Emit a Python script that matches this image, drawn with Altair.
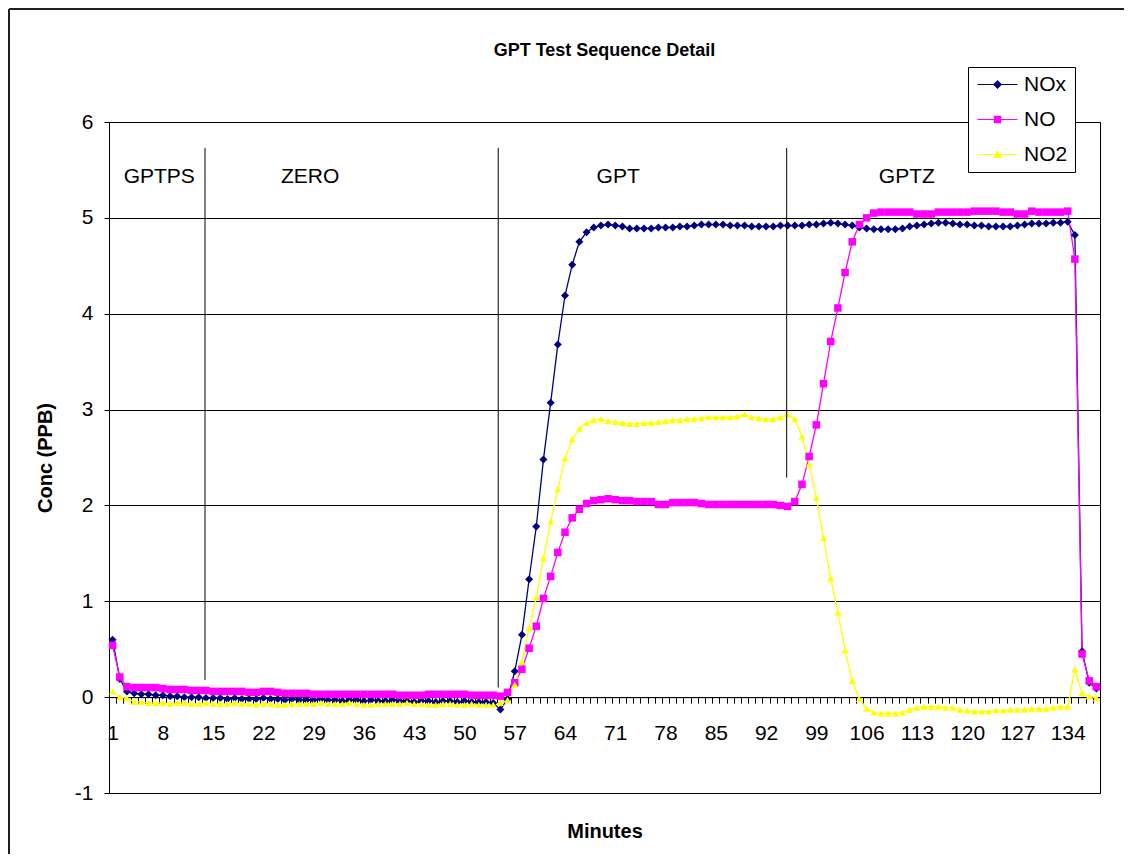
import altair as alt
import pandas as pd

# ---------------- data ----------------
minutes = list(range(1, 139))

nox = [0.60, 0.19, 0.06, 0.04, 0.03, 0.03, 0.02, 0.02, 0.01, 0.01,
       0.00, 0.00, 0.00, -0.01, -0.01, -0.01, -0.02, -0.01, -0.02, -0.02,
       -0.02, -0.01, -0.02, -0.02, -0.03, -0.02, -0.03, -0.03, -0.03, -0.02,
       -0.03, -0.03, -0.04, -0.03, -0.03, -0.04, -0.03, -0.04, -0.04, -0.03,
       -0.04, -0.04, -0.05, -0.04, -0.04, -0.05, -0.04, -0.04, -0.05, -0.04,
       -0.05, -0.05, -0.05, -0.06, -0.13, -0.02, 0.27, 0.65, 1.23, 1.78,
       2.48, 3.07, 3.68, 4.19, 4.51, 4.75, 4.85, 4.90, 4.92, 4.93,
       4.92, 4.91, 4.89, 4.89, 4.89, 4.89, 4.90, 4.90, 4.90, 4.91,
       4.91, 4.92, 4.93, 4.93, 4.93, 4.93, 4.92, 4.92, 4.92, 4.91,
       4.91, 4.91, 4.91, 4.92, 4.92, 4.92, 4.92, 4.93, 4.93, 4.94,
       4.95, 4.94, 4.93, 4.92, 4.90, 4.89, 4.88, 4.88, 4.88, 4.88,
       4.89, 4.91, 4.92, 4.93, 4.94, 4.95, 4.95, 4.94, 4.93, 4.93,
       4.92, 4.92, 4.91, 4.91, 4.91, 4.91, 4.92, 4.93, 4.94, 4.94,
       4.94, 4.95, 4.95, 4.96, 4.82, 0.48, 0.15, 0.09]

no = [0.54, 0.21, 0.11, 0.10, 0.10, 0.10, 0.10, 0.09, 0.08, 0.08,
      0.08, 0.07, 0.07, 0.07, 0.06, 0.06, 0.06, 0.06, 0.06, 0.05,
      0.05, 0.06, 0.06, 0.05, 0.04, 0.04, 0.04, 0.04, 0.03, 0.03,
      0.03, 0.03, 0.03, 0.03, 0.03, 0.03, 0.03, 0.03, 0.03, 0.03,
      0.02, 0.02, 0.02, 0.02, 0.03, 0.03, 0.03, 0.03, 0.03, 0.03,
      0.02, 0.02, 0.02, 0.02, 0.01, 0.05, 0.15, 0.29, 0.51, 0.74,
      1.03, 1.26, 1.51, 1.72, 1.87, 1.96, 2.02, 2.05, 2.06, 2.07,
      2.06, 2.05, 2.05, 2.04, 2.04, 2.04, 2.01, 2.01, 2.03, 2.03,
      2.03, 2.03, 2.02, 2.01, 2.01, 2.01, 2.01, 2.01, 2.01, 2.01,
      2.01, 2.01, 2.01, 2.00, 1.99, 2.04, 2.22, 2.51, 2.84, 3.27,
      3.71, 4.06, 4.43, 4.75, 4.93, 5.00, 5.05, 5.06, 5.06, 5.06,
      5.06, 5.06, 5.04, 5.04, 5.04, 5.06, 5.06, 5.06, 5.06, 5.06,
      5.07, 5.07, 5.07, 5.07, 5.06, 5.06, 5.04, 5.04, 5.07, 5.06,
      5.06, 5.06, 5.06, 5.07, 4.57, 0.45, 0.17, 0.11]

no2 = [0.06, 0.00, -0.01, -0.05, -0.05, -0.06, -0.06, -0.06, -0.07, -0.06,
       -0.06, -0.07, -0.07, -0.06, -0.07, -0.07, -0.07, -0.06, -0.07, -0.07,
       -0.08, -0.07, -0.07, -0.08, -0.08, -0.07, -0.07, -0.07, -0.07, -0.06,
       -0.07, -0.07, -0.07, -0.06, -0.07, -0.08, -0.08, -0.07, -0.07, -0.07,
       -0.07, -0.06, -0.07, -0.07, -0.08, -0.08, -0.07, -0.07, -0.08, -0.08,
       -0.07, -0.08, -0.08, -0.08, -0.06, -0.03, 0.13, 0.37, 0.72, 1.04,
       1.45, 1.83, 2.17, 2.49, 2.69, 2.80, 2.86, 2.89, 2.90, 2.88,
       2.87, 2.86, 2.85, 2.85, 2.86, 2.86, 2.87, 2.88, 2.89, 2.89,
       2.90, 2.90, 2.91, 2.92, 2.92, 2.92, 2.92, 2.93, 2.95, 2.92,
       2.91, 2.90, 2.90, 2.92, 2.95, 2.90, 2.72, 2.43, 2.08, 1.66,
       1.24, 0.88, 0.49, 0.17, -0.02, -0.12, -0.16, -0.17, -0.17, -0.17,
       -0.16, -0.13, -0.11, -0.10, -0.10, -0.10, -0.11, -0.11, -0.13, -0.14,
       -0.15, -0.15, -0.15, -0.14, -0.14, -0.13, -0.13, -0.13, -0.12, -0.12,
       -0.12, -0.11, -0.10, -0.10, 0.29, 0.04, 0.01, -0.01]

series_names = ["NOx", "NO", "NO2"]
series_colors = ["#000080", "#FF00FF", "#FFFF00"]
marker_shapes = ["diamond", "square", "triangle-up"]
marker_sizes = [64, 49, 64]
# legend symbols: a short line with the marker on it
legend_shapes = [
    "M-2,-0.06L2,-0.06L2,0.06L-2,0.06Z M0,-0.45L0.45,0L0,0.45L-0.45,0Z",
    "M-2,-0.06L2,-0.06L2,0.06L-2,0.06Z M-0.37,-0.37L0.37,-0.37L0.37,0.37L-0.37,0.37Z",
    "M-2,-0.06L2,-0.06L2,0.06L-2,0.06Z M0,-0.42L0.44,0.36L-0.44,0.36Z",
]

section_names = ["GPTPS", "ZERO", "GPT", "GPTZ"]
section_x = [7.5, 28.5, 71.4, 111.6]
section_y = [5.43, 5.43, 5.43, 5.43]

divider_x = [13.87, 54.7, 94.87]
divider_top = [5.73, 5.73, 5.73]
divider_bottom = [0.18, 0.10, 2.29]

y_ticks = [-1, 0, 1, 2, 3, 4, 5, 6]
x_label_step = 7

# ---------------- tables ----------------
rows = []
for name, vals in zip(series_names, [nox, no, no2]):
    for m, v in zip(minutes, vals):
        rows.append({"minute": m, "conc": v, "series": name})
df = pd.DataFrame(rows)

sec_df = pd.DataFrame({"minute": section_x, "conc": section_y, "label": section_names})
div_df = pd.DataFrame({"minute": divider_x, "conc": divider_top, "conc2": divider_bottom})
leg_df = pd.DataFrame({"series_l": series_names, "minute": [1, 1, 1], "conc": [60, 60, 60]})

W, H = 991, 671
half = W / len(minutes) / 2
FONT = "Liberation Sans"

xscale = alt.Scale(domain=[0.5, len(minutes) + 0.5], nice=False, zero=False)
yscale = alt.Scale(domain=[-1, 6], nice=False, zero=False)

x_axis = alt.Axis(
    orient="bottom", offset=-H / 7, values=minutes,
    labelExpr=f"(datum.value - 1) % {x_label_step} === 0 ? '' + datum.value : ''",
    labelOverlap=False, labelFlush=False, labelBound=False,
    tickSize=6, tickOffset=-half, labelOffset=half, labelPadding=19,
    labelFontSize=21, grid=False, domainColor="black", tickColor="black",
    title="Minutes", titleFontSize=20, titleFontWeight="bold",
    titleX=W / 2, titleY=134, titleAlign="center", titleBaseline="middle",
)
y_axis = alt.Axis(
    values=y_ticks, labelExpr="'' + datum.value", labelFontSize=21,
    tickSize=5, labelPadding=11, grid=True, gridColor="black", gridOpacity=1,
    domainColor="black", tickColor="black",
    title="Conc (PPB)", titleFontSize=20, titleFontWeight="bold",
    titleX=-64, titleY=H / 2, titleAlign="center", titleBaseline="middle", titleAngle=270,
)

X = alt.X("minute:Q", scale=xscale, axis=x_axis)
Y = alt.Y("conc:Q", scale=yscale, axis=y_axis)

color_scale = alt.Scale(domain=series_names, range=series_colors)

lines = alt.Chart(df).mark_line(strokeWidth=1.3).encode(
    x=X, y=Y,
    color=alt.Color("series:N", scale=color_scale, legend=None),
    detail="series:N",
    order="minute:Q",
)
points = alt.Chart(df).mark_point(filled=True, opacity=1).encode(
    x=X, y=Y,
    color=alt.Color("series:N", scale=color_scale, legend=None),
    shape=alt.Shape("series:N", scale=alt.Scale(domain=series_names, range=marker_shapes), legend=None),
    size=alt.Size("series:N", scale=alt.Scale(domain=series_names, range=marker_sizes), legend=None),
)
main = alt.layer(lines, points)

dividers = alt.Chart(div_df).mark_rule(color="black", strokeWidth=1).encode(
    x=X, y=Y, y2="conc2:Q",
)
sections = alt.Chart(sec_df).mark_text(fontSize=21, font=FONT, color="black",
                                       align="center", baseline="middle").encode(
    x=X, y=Y, text="label:N",
)

legend = alt.Legend(
    title=None, orient="none", legendX=859, legendY=-55,
    padding=7, symbolOffset=12, labelOffset=16, rowPadding=13,
    symbolSize=400, symbolStrokeWidth=0, labelFontSize=21, labelFont=FONT,
    labelColor="black", strokeColor="black", fillColor="white", cornerRadius=0,
)
legend_layer = alt.Chart(leg_df).mark_point(filled=True, opacity=1, clip=True, size=400).encode(
    x=X, y=Y,
    color=alt.Color("series_l:N", scale=alt.Scale(domain=series_names, range=series_colors), legend=legend),
    shape=alt.Shape("series_l:N", scale=alt.Scale(domain=series_names, range=legend_shapes), legend=legend),
)

frame = alt.Chart(leg_df).mark_rect(fill=None, stroke="black", strokeWidth=1).encode(
    x=alt.value(-100), x2=alt.value(W + 60), y=alt.value(-113), y2=alt.value(H + 90),
)

chart = alt.layer(frame, main, dividers, sections, legend_layer).resolve_scale(
    color="independent", shape="independent", size="independent"
).properties(
    width=W, height=H,
    title=alt.TitleParams("GPT Test Sequence Detail", font=FONT, fontSize=18, fontWeight="bold",
                          anchor="middle", frame="group", offset=-51, color="black"),
    padding={"left": 101, "top": 114, "right": 24, "bottom": 61},
    autosize=alt.AutoSizeParams(type="none"),
).configure_view(stroke="black", strokeWidth=1).configure_axis(
    labelFont=FONT, titleFont=FONT, labelColor="black", titleColor="black"
).configure_text(font=FONT)

chart.save("out.html", embed_options={"renderer": "svg", "actions": False})
